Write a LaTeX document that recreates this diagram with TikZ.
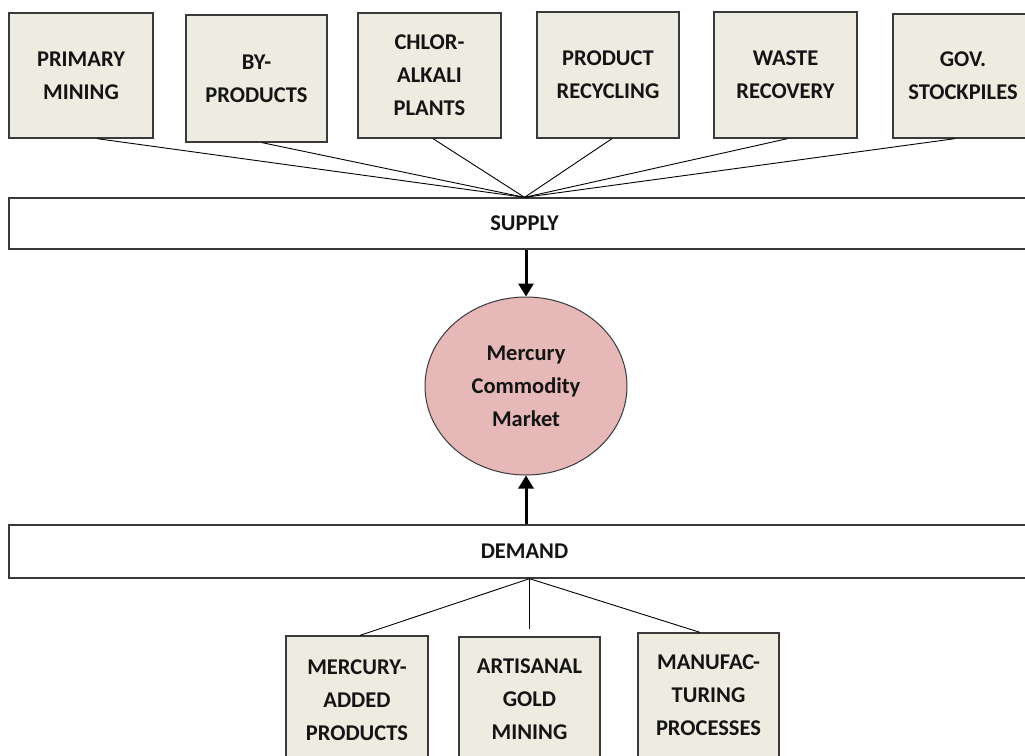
\documentclass[tikz,border=0pt]{standalone}
\usepackage{fontspec}
\setmainfont{Carlito}
\usetikzlibrary{shapes.geometric,arrows.meta,calc}
\definecolor{boxfill}{HTML}{EEECE1}
\definecolor{mktfill}{HTML}{E6B9B8}
\definecolor{edgegray}{HTML}{3A3A3A}
\definecolor{txt}{HTML}{141414}
\newcommand{\boxfont}{\fontsize{22.5}{33}\selectfont\bfseries}
\begin{document}
\begin{tikzpicture}[x=1pt,y=-1pt,
  srcbox/.style={draw=edgegray,line width=1.3pt,fill=boxfill,minimum width=143pt,
    minimum height=125pt,inner sep=0pt,align=center,font=\boxfont,text=txt},
  barbox/.style={draw=edgegray,line width=1.3pt,fill=white,minimum width=1031pt,
    inner sep=0pt,align=center,font=\boxfont,text=txt},
  mkt/.style={ellipse,draw=edgegray,line width=1pt,fill=mktfill,minimum width=202pt,
    minimum height=178pt,inner sep=0pt,align=center,font=\boxfont,text=txt},
  conn/.style={draw=black,line width=0.9pt},
  flow/.style={draw=black,line width=3pt,-{Triangle[width=15pt,length=13pt]}}]
\useasboundingbox (0,0) rectangle (1025,755);
\clip (0,0) rectangle (1025,755);
% supply sources
\node[srcbox,minimum width=144pt] (b1) at (81,75.5) {PRIMARY\\MINING};
\node[srcbox,minimum width=141pt,minimum height=127pt] (b2) at (256.5,78.5) {BY-\\PRODUCTS};
\node[srcbox] (b3) at (429.5,75.5) {CHLOR-\\ALKALI\\PLANTS};
\node[srcbox,minimum width=142pt,minimum height=126pt] (b4) at (608,75) {PRODUCT\\RECYCLING};
\node[srcbox,minimum height=126pt] (b5) at (785.5,75) {WASTE\\RECOVERY};
\node[srcbox,minimum width=140pt,minimum height=124pt] (b6) at (963,76) {GOV.\\STOCKPILES};
% bars
\node[barbox,minimum height=51pt] (supply) at (524.5,223.5) {SUPPLY};
\node[barbox,minimum height=53pt] (demand) at (524.5,551.5) {DEMAND};
% market
\node[mkt] (market) at (526,386) {Mercury\\Commodity\\Market};
% demand sinks
\node[srcbox,minimum width=142pt,minimum height=128pt] (bA) at (357,700) {MERCURY-\\ADDED\\PRODUCTS};
\node[srcbox,minimum width=141pt,minimum height=124pt] (bB) at (529.5,699) {ARTISANAL\\GOLD\\MINING};
\node[srcbox,minimum width=141pt,minimum height=124pt] (bC) at (708.5,695) {MANUFAC-\\TURING\\PROCESSES};
% junctions
\coordinate (sj) at (supply.north);
\coordinate (dj) at (demand.south -| bB.north);
% supply connectors
\draw[conn] ([xshift=16pt]b1.south) -- (sj);
\draw[conn] ([xshift=5.5pt]b2.south) -- (sj);
\draw[conn] ([xshift=3.5pt]b3.south) -- (sj);
\draw[conn] ([xshift=4pt]b4.south) -- (sj);
\draw[conn] ([xshift=2pt]b5.south) -- (sj);
\draw[conn] ([xshift=-8pt]b6.south) -- (sj);
% flows
\draw[flow] (market.north |- supply.south) -- (market.north);
\draw[flow] (market.south |- demand.north) -- (market.south);
% demand connectors
\draw[conn] (dj) -- ([xshift=3pt]bA.north);
\draw[conn] (dj) -- ([yshift=7pt]bB.north);
\draw[conn] (dj) -- ([xshift=-8.5pt]bC.north);
\end{tikzpicture}
\end{document}
